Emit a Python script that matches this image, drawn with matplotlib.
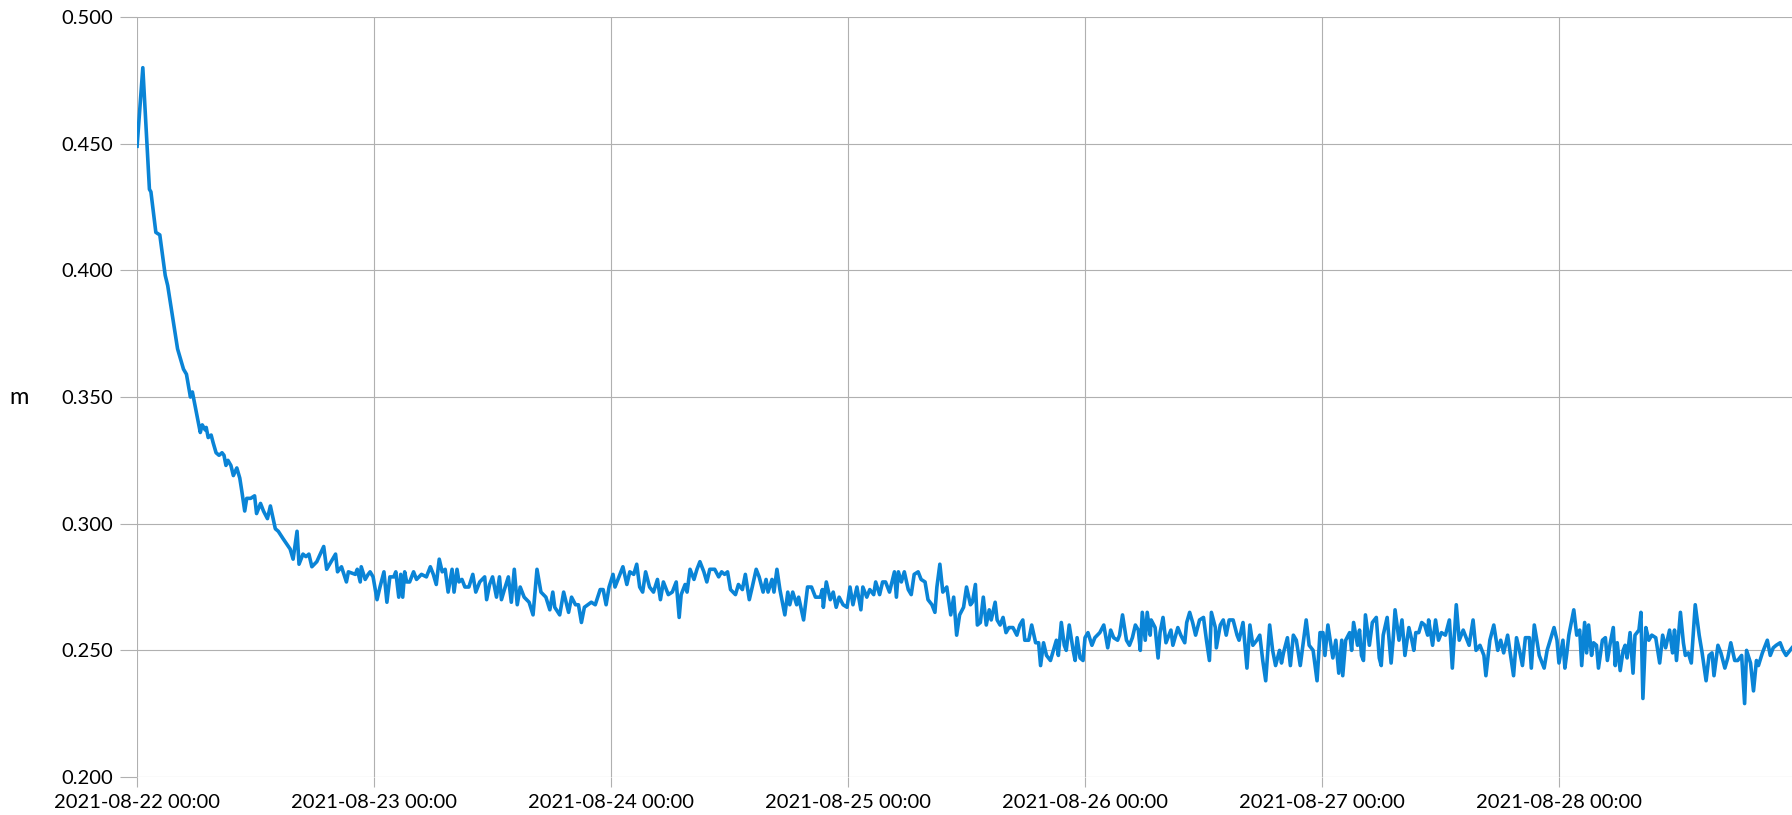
import matplotlib
matplotlib.use("Agg")
import matplotlib.pyplot as plt
import matplotlib.dates as mdates
from matplotlib.ticker import MultipleLocator, FormatStrFormatter
import numpy as np
import pandas as pd

# start of the record
start = pd.Timestamp("2021-08-22 00:00")

# hours since start and level (m), one pair per day
h_day1 = [0.0, 0.58, 1.25, 1.4, 1.9, 2.3, 2.85, 3.1, 4.1, 4.7, 5.0, 5.4, 5.6, 5.9, 6.2, 6.4, 6.6, 6.9,
          7.0, 7.2, 7.5, 7.7, 8.0, 8.3, 8.6, 8.8, 9.0, 9.2, 9.5, 9.75, 10.1, 10.4, 10.6, 10.9, 11.1,
          11.5, 11.9, 12.1, 12.5, 12.8, 13.2, 13.5, 14.0, 14.3, 14.8, 15.5, 15.8, 16.2, 16.4, 16.8,
          17.1, 17.4, 17.7, 18.2, 18.9, 19.2, 20.1, 20.3, 20.7, 21.2, 21.4, 22.1, 22.3, 22.6, 22.7,
          23.1, 23.4, 23.6, 23.9]
v_day1 = [0.449, 0.480, 0.432, 0.431, 0.415, 0.414, 0.398, 0.394, 0.369, 0.361, 0.359, 0.350, 0.352,
          0.346, 0.340, 0.336, 0.339, 0.337, 0.338, 0.334, 0.335, 0.332, 0.328, 0.327, 0.328, 0.327,
          0.323, 0.325, 0.323, 0.319, 0.322, 0.318, 0.313, 0.305, 0.310, 0.310, 0.311, 0.304, 0.308,
          0.305, 0.302, 0.307, 0.298, 0.297, 0.294, 0.290, 0.286, 0.297, 0.284, 0.288, 0.287, 0.288,
          0.283, 0.285, 0.291, 0.282, 0.288, 0.281, 0.283, 0.277, 0.281, 0.280, 0.282, 0.277, 0.283,
          0.278, 0.280, 0.281, 0.279]

h_day2 = [24.3, 24.6, 25.0, 25.3, 25.6, 26.0, 26.2, 26.5, 26.7, 26.9, 27.1, 27.3, 27.6, 28.0, 28.3,
          28.8, 29.3, 29.7, 30.0, 30.3, 30.6, 30.9, 31.2, 31.5, 31.9, 32.1, 32.4, 32.6, 32.9, 33.2,
          33.6, 34.0, 34.3, 34.7, 35.2, 35.4, 35.7, 36.0, 36.4, 36.7, 36.9, 37.2, 37.6, 37.9, 38.2,
          38.5, 38.8, 39.2, 39.7, 40.1, 40.5, 40.9, 41.4, 41.8, 42.1, 42.3, 42.8, 43.2, 43.7, 44.0,
          44.4, 44.7, 45.0, 45.3, 46.0, 46.4, 46.9, 47.2, 47.5, 47.8]
v_day2 = [0.270, 0.275, 0.281, 0.269, 0.279, 0.279, 0.281, 0.271, 0.280, 0.271, 0.281, 0.277, 0.277,
          0.281, 0.278, 0.280, 0.279, 0.283, 0.280, 0.276, 0.286, 0.281, 0.282, 0.273, 0.282, 0.273,
          0.282, 0.277, 0.278, 0.275, 0.275, 0.280, 0.273, 0.277, 0.279, 0.270, 0.276, 0.279, 0.271,
          0.279, 0.270, 0.274, 0.279, 0.269, 0.282, 0.268, 0.275, 0.271, 0.269, 0.264, 0.282, 0.273,
          0.271, 0.266, 0.273, 0.267, 0.264, 0.273, 0.265, 0.271, 0.268, 0.268, 0.261, 0.267, 0.269,
          0.268, 0.274, 0.274, 0.268, 0.275]

h_day3 = [48.2, 48.4, 48.8, 49.2, 49.6, 49.9, 50.3, 50.6, 50.9, 51.2, 51.5, 51.9, 52.3, 52.7, 53.0,
          53.3, 53.8, 54.2, 54.6, 54.9, 55.1, 55.5, 55.7, 56.0, 56.4, 56.7, 57.0, 57.4, 57.7, 58.0,
          58.5, 58.9, 59.2, 59.5, 59.8, 60.1, 60.6, 60.9, 61.3, 61.6, 62.0, 62.3, 62.7, 63.0, 63.4,
          63.7, 63.9, 64.3, 64.5, 64.8, 65.1, 65.6, 65.9, 66.1, 66.4, 66.8, 67.0, 67.5, 67.9, 68.3,
          68.7, 69.2, 69.4, 69.5, 69.8, 70.2, 70.5, 70.8, 71.1, 71.5, 71.9]
v_day3 = [0.280, 0.275, 0.279, 0.283, 0.276, 0.281, 0.280, 0.284, 0.275, 0.273, 0.281, 0.275, 0.273,
          0.278, 0.270, 0.277, 0.272, 0.273, 0.277, 0.263, 0.272, 0.276, 0.273, 0.282, 0.278, 0.282,
          0.285, 0.281, 0.277, 0.282, 0.282, 0.279, 0.281, 0.280, 0.281, 0.274, 0.272, 0.276, 0.274,
          0.280, 0.270, 0.275, 0.282, 0.279, 0.273, 0.278, 0.273, 0.278, 0.273, 0.282, 0.274, 0.264,
          0.273, 0.268, 0.273, 0.268, 0.271, 0.262, 0.275, 0.275, 0.271, 0.271, 0.274, 0.267, 0.277,
          0.270, 0.273, 0.267, 0.271, 0.268, 0.267]

h_day4 = [72.2, 72.5, 72.9, 73.3, 73.5, 73.9, 74.2, 74.6, 74.8, 75.2, 75.5, 75.8, 76.2, 76.7, 76.9,
          77.1, 77.4, 77.7, 78.1, 78.4, 78.7, 79.1, 79.4, 79.8, 80.1, 80.5, 80.8, 81.0, 81.3, 81.6,
          82.0, 82.4, 82.7, 83.0, 83.3, 83.7, 84.0, 84.4, 84.6, 84.9, 85.1, 85.4, 85.7, 86.0, 86.3,
          86.5, 86.9, 87.1, 87.4, 87.7, 88.0, 88.3, 88.7, 89.1, 89.4, 89.7, 89.9, 90.3, 90.6, 91.0,
          91.3, 91.5, 91.8, 92.1, 92.5, 92.8, 93.1, 93.3, 93.6, 93.9, 94.1, 94.4, 94.8, 95.0, 95.2,
          95.5, 95.8]
v_day4 = [0.275, 0.268, 0.275, 0.266, 0.275, 0.271, 0.274, 0.272, 0.277, 0.272, 0.277, 0.277, 0.273,
          0.281, 0.271, 0.281, 0.277, 0.281, 0.274, 0.272, 0.280, 0.281, 0.278, 0.277, 0.270, 0.268,
          0.265, 0.275, 0.284, 0.273, 0.275, 0.264, 0.271, 0.256, 0.264, 0.267, 0.275, 0.268, 0.269,
          0.276, 0.260, 0.261, 0.271, 0.260, 0.266, 0.262, 0.269, 0.262, 0.260, 0.263, 0.257, 0.259,
          0.259, 0.256, 0.260, 0.262, 0.254, 0.254, 0.260, 0.253, 0.253, 0.244, 0.253, 0.248, 0.246,
          0.250, 0.254, 0.248, 0.261, 0.252, 0.250, 0.260, 0.250, 0.246, 0.255, 0.247, 0.246]

h_day5 = [96.0, 96.3, 96.7, 97.0, 97.5, 97.9, 98.3, 98.6, 98.9, 99.3, 99.5, 99.8, 100.2, 100.5,
          100.8, 101.1, 101.4, 101.6, 101.8, 102.1, 102.3, 102.6, 102.7, 103.1, 103.4, 103.6, 103.9,
          104.2, 104.7, 104.9, 105.4, 105.7, 106.1, 106.3, 106.6, 106.9, 107.2, 107.6, 108.0, 108.3,
          108.6, 108.8, 109.2, 109.3, 109.7, 110.0, 110.3, 110.6, 111.0, 111.4, 111.6, 112.0, 112.2,
          112.4, 112.7, 113.0, 113.4, 113.7, 114.0, 114.3, 114.7, 115.0, 115.3, 115.7, 115.9, 116.1,
          116.5, 116.8, 117.1, 117.4, 117.8, 118.1, 118.4, 118.7, 119.1, 119.5, 119.8]
v_day5 = [0.255, 0.257, 0.252, 0.255, 0.257, 0.260, 0.251, 0.258, 0.255, 0.254, 0.256, 0.264, 0.254,
          0.252, 0.255, 0.260, 0.258, 0.250, 0.265, 0.254, 0.265, 0.256, 0.262, 0.259, 0.247, 0.257,
          0.263, 0.253, 0.258, 0.252, 0.259, 0.256, 0.253, 0.261, 0.265, 0.261, 0.256, 0.262, 0.263,
          0.254, 0.246, 0.265, 0.259, 0.251, 0.260, 0.262, 0.256, 0.262, 0.262, 0.256, 0.254, 0.261,
          0.252, 0.243, 0.260, 0.252, 0.254, 0.256, 0.246, 0.238, 0.260, 0.250, 0.244, 0.250, 0.245,
          0.249, 0.255, 0.244, 0.256, 0.254, 0.244, 0.253, 0.262, 0.252, 0.250, 0.238, 0.257]

h_day6 = [120.1, 120.3, 120.6, 121.1, 121.4, 121.7, 122.0, 122.1, 122.4, 122.8, 123.0, 123.2, 123.6,
          123.8, 124.0, 124.2, 124.4, 124.8, 125.1, 125.3, 125.5, 125.8, 126.0, 126.2, 126.6, 127.0,
          127.2, 127.4, 127.8, 128.1, 128.4, 128.8, 129.1, 129.3, 129.5, 129.8, 130.1, 130.4, 130.7,
          130.8, 131.2, 131.5, 131.8, 132.1, 132.5, 132.9, 133.2, 133.6, 133.9, 134.3, 134.6, 134.9,
          135.3, 135.6, 136.0, 136.4, 136.6, 137.0, 137.4, 137.8, 138.1, 138.4, 138.8, 139.1, 139.4,
          139.7, 140.0, 140.3, 140.6, 141.0, 141.2, 141.5, 141.8, 142.0, 142.5, 142.8, 143.5, 143.8]
v_day6 = [0.257, 0.248, 0.260, 0.247, 0.254, 0.241, 0.254, 0.240, 0.254, 0.257, 0.250, 0.261, 0.252,
          0.258, 0.248, 0.246, 0.264, 0.252, 0.261, 0.262, 0.263, 0.247, 0.244, 0.256, 0.263, 0.245,
          0.254, 0.266, 0.254, 0.262, 0.248, 0.259, 0.254, 0.250, 0.257, 0.257, 0.261, 0.260, 0.256,
          0.262, 0.252, 0.262, 0.254, 0.257, 0.256, 0.262, 0.243, 0.268, 0.254, 0.258, 0.255, 0.252,
          0.262, 0.250, 0.252, 0.248, 0.240, 0.254, 0.260, 0.250, 0.254, 0.249, 0.256, 0.248, 0.240,
          0.255, 0.250, 0.244, 0.255, 0.255, 0.243, 0.260, 0.253, 0.248, 0.243, 0.250, 0.259, 0.254]

h_day7 = [144.0, 144.4, 144.6, 144.8, 145.0, 145.5, 145.8, 146.1, 146.3, 146.6, 146.8, 147.0, 147.3,
          147.5, 147.8, 148.0, 148.4, 148.7, 148.9, 149.2, 149.5, 149.7, 149.9, 150.2, 150.5, 150.7,
          150.9, 151.2, 151.5, 151.7, 152.1, 152.3, 152.5, 152.8, 153.1, 153.4, 153.8, 154.0, 154.2,
          154.5, 154.8, 155.2, 155.5, 155.7, 155.9, 156.3, 156.6, 156.8, 157.1, 157.4, 157.8, 158.2,
          158.5, 158.9, 159.2, 159.5, 159.7, 160.1, 160.4, 160.8, 161.1, 161.4, 161.8, 162.1, 162.5,
          162.8, 163.0, 163.4, 163.7, 164.0, 164.2, 164.6, 165.1, 165.4, 165.7, 166.0, 166.4, 166.7,
          167.0, 167.6]
v_day7 = [0.245, 0.254, 0.243, 0.249, 0.256, 0.266, 0.256, 0.258, 0.244, 0.261, 0.249, 0.260, 0.248,
          0.253, 0.252, 0.243, 0.254, 0.255, 0.246, 0.253, 0.259, 0.244, 0.253, 0.242, 0.250, 0.252,
          0.247, 0.257, 0.241, 0.256, 0.258, 0.265, 0.231, 0.259, 0.254, 0.256, 0.255, 0.250, 0.245,
          0.256, 0.251, 0.258, 0.249, 0.258, 0.246, 0.265, 0.253, 0.248, 0.249, 0.245, 0.268, 0.256,
          0.249, 0.238, 0.248, 0.249, 0.240, 0.252, 0.249, 0.243, 0.247, 0.253, 0.246, 0.246, 0.248,
          0.229, 0.250, 0.245, 0.234, 0.246, 0.244, 0.249, 0.254, 0.248, 0.251, 0.252, 0.253, 0.250,
          0.248, 0.251]

hours = np.concatenate([h_day1, h_day2, h_day3, h_day4, h_day5, h_day6, h_day7])
level = np.concatenate([v_day1, v_day2, v_day3, v_day4, v_day5, v_day6, v_day7])
times = start + pd.to_timedelta(hours, unit="h")

plt.rcParams["font.family"] = ["Lato", "DejaVu Sans"]

fig = plt.figure(figsize=(17.92, 8.15), dpi=100)
ax = fig.add_axes([0.0765, 0.0466, 0.9235, 0.9325])

ax.plot(times, level, color="#0a84d6", lw=2.6, zorder=3)

ax.set_xlim(times[0], times[-1])
ax.set_ylim(0.2, 0.5)

ax.yaxis.set_major_locator(MultipleLocator(0.05))
ax.yaxis.set_major_formatter(FormatStrFormatter("%.3f"))
ax.xaxis.set_major_locator(mdates.DayLocator())
ax.xaxis.set_major_formatter(mdates.DateFormatter("%Y-%m-%d %H:%M"))

ax.grid(True, color="#b0b0b0", lw=0.8)
for s in ax.spines.values():
    s.set_visible(False)
ax.tick_params(axis="y", length=12, width=0.8, color="#b0b0b0", pad=5, labelsize=14.5)
ax.tick_params(axis="x", length=7, width=0.8, color="#b0b0b0", pad=5, labelsize=14.5)

ax.set_ylabel("m", fontsize=17, rotation=0, va="center", ha="center")
ax.yaxis.set_label_coords(-0.0715, 0.5)

fig.savefig("out.png", dpi=100)
plt.close(fig)
